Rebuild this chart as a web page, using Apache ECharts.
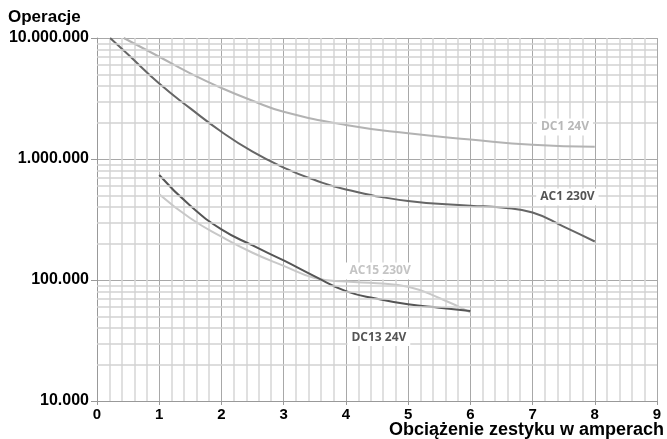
<!DOCTYPE html>
<html>
<head>
<meta charset="utf-8">
<script src="https://cdn.jsdelivr.net/npm/echarts@6/dist/echarts.min.js"></script>
<style>html,body{margin:0;padding:0;background:#fff}#c{width:667px;height:439px}</style>
</head>
<body>
<div id="c"></div>
<script>
// Data: [load in A, operations]
const dc1_24V = [[0.43,1e7],[1,7.0e6],[1.5,5.1e6],[2,3.86e6],[2.5,3.03e6],[3,2.46e6],[4,1.91e6],[5,1.63e6],[6,1.45e6],[7,1.31e6],[8,1.26e6]];
const ac1_230V = [[0.21,1e7],[0.5,7.3e6],[1,4.2e6],[1.5,2.62e6],[2,1.68e6],[2.5,1.15e6],[3,8.5e5],[3.5,6.7e5],[4,5.6e5],[5,4.5e5],[6,4.11e5],[6.5,3.97e5],[7,3.61e5],[7.5,2.76e5],[8,2.08e5]];
const ac15_230V = [[1,5.12e5],[1.5,3.24e5],[2,2.28e5],[2.5,1.68e5],[3,1.31e5],[3.5,1.04e5],[4,9.7e4],[4.5,9.4e4],[5,8.8e4],[5.5,7.1e4],[6,5.4e4]];
const dc13_24V = [[1,7.38e5],[1.5,4.1e5],[2,2.62e5],[2.5,1.93e5],[3,1.45e5],[3.5,1.07e5],[4,8.1e4],[4.5,7.0e4],[5,6.3e4],[5.5,5.9e4],[6,5.55e4]];
const seriesNames = ['DC1 24V','AC1 230V','AC15 230V','DC13 24V'];
const yMinorTicks = [2e4,3e4,4e4,5e4,6e4,7e4,8e4,9e4,2e5,3e5,4e5,5e5,6e5,7e5,8e5,9e5,2e6,3e6,4e6,5e6,6e6,7e6,8e6,9e6];
const yAxisTitle = 'Operacje';
const xAxisTitle = 'Obciążenie zestyku w amperach';

function fmt(v){ return String(Math.round(v)).replace(/\B(?=(\d{3})+(?!\d))/g,'.'); }

const chart = echarts.init(document.getElementById('c'));
function curve(name, data, color, labelCoord, labelColor){
  return {
    name: name, type:'line', data: data, showSymbol:false, symbol:'none',
    smooth:0.5, z:3,
    lineStyle:{color:color, width:2},
    markPoint:{
      symbol:'rect', symbolSize:0, silent:true, animation:false,
      data:[{coord:labelCoord, value:name}],
      label:{show:true, position:'inside', formatter:name, color:labelColor,
        fontFamily:'Open Sans', fontWeight:'bold', fontSize:12,
        backgroundColor:'#fff', padding:[3,4,2,4]}
    }
  };
}
const titleFont = {fontFamily:'Liberation Sans', fontWeight:'bold', fontSize:17, color:'#000'};
chart.setOption({
  animation:false,
  title:[
    {text:yAxisTitle, left:8, top:9, padding:0, textStyle:titleFont},
    {text:xAxisTitle, right:3, top:421, padding:0, textStyle:Object.assign({}, titleFont, {fontSize:18})}
  ],
  grid:{left:97, right:10, top:38, bottom:38, containLabel:false, outerBoundsMode:'none'},
  xAxis:{
    type:'value', min:0, max:9, interval:1,
    axisLine:{show:true, lineStyle:{color:'#999', width:1}},
    axisTick:{show:true, length:4, lineStyle:{color:'#999'}},
    axisLabel:{margin:6, fontFamily:'Liberation Sans', fontWeight:'bold', fontSize:15, color:'#000'},
    splitLine:{show:true, lineStyle:{color:'#a8a8a8', width:1}},
    minorTick:{show:false, splitNumber:5},
    minorSplitLine:{show:true, lineStyle:{color:'#d6d6d6', width:1.5}}
  },
  yAxis:{
    type:'log', logBase:10, min:1e4, max:1e7,
    axisLine:{show:true, lineStyle:{color:'#999', width:1}},
    axisTick:{show:true, length:6, lineStyle:{color:'#999'}},
    axisLabel:{margin:8, fontFamily:'Liberation Sans', fontWeight:'bold', fontSize:16, color:'#000', formatter:fmt},
    splitLine:{show:true, lineStyle:{color:'#a8a8a8', width:1}}
  },
  series:[
    {type:'line', data:[], z:1, silent:true,
     markLine:{silent:true, symbol:['none','none'], animation:false, label:{show:false},
       lineStyle:{type:'solid', color:'#d2d2d2', width:1.5},
       data: yMinorTicks.map(v=>({yAxis:v}))}},
    curve(seriesNames[0], dc1_24V, '#b3b3b3', [7.52, 1.84e6], '#b8b8b8'),
    curve(seriesNames[1], ac1_230V, '#666666', [7.56, 4.85e5], '#555555'),
    curve(seriesNames[2], ac15_230V, '#c8c8c8', [4.55, 1.187e5], '#c4c4c4'),
    curve(seriesNames[3], dc13_24V, '#555555', [4.53, 3.35e4], '#555555')
  ]
});
</script>
</body>
</html>
